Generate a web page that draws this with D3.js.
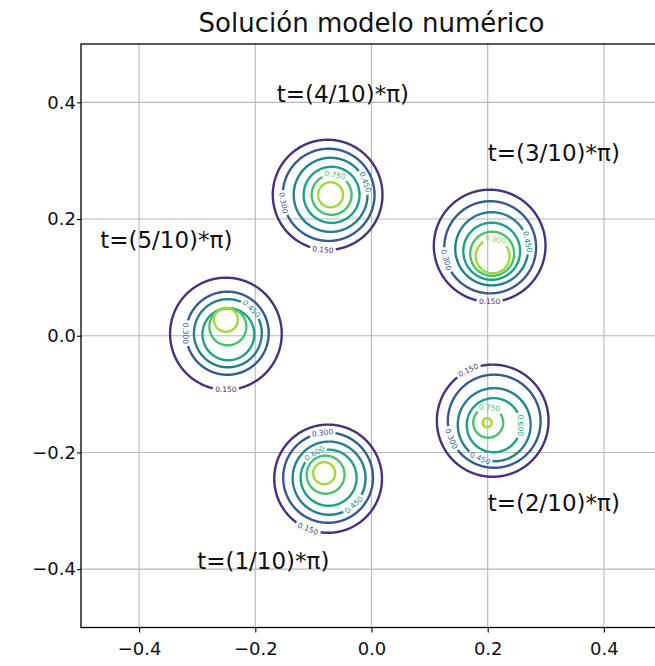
<!DOCTYPE html>
<html>
<head>
<meta charset="utf-8">
<script src="https://cdn.jsdelivr.net/npm/d3@7"></script>
<style>
  html, body { margin: 0; padding: 0; background: #ffffff; }
  svg { display: block; font-family: "DejaVu Sans", sans-serif; }
</style>
</head>
<body>
<div id="chart"></div>
<script>
// Contour levels of the numerical solution and their labels
const levels = [0.15, 0.30, 0.45, 0.60, 0.75, 0.90];
const levelText = ["0.150", "0.300", "0.450", "0.600", "0.750", "0.900"];
const colorTop = 1.05;

// Contour rings per time step: centre (x, y) and radius of each level
const t1CX = [-0.0747, -0.0747, -0.0730, -0.0738, -0.0790, -0.0815];
const t1CY = [-0.2450, -0.2433, -0.2441, -0.2433, -0.2381, -0.2355];
const t1R  = [0.0927, 0.0773, 0.0627, 0.0481, 0.0326, 0.0189];
const t1Lab = [[0, 112], [1, -97], [2, 47], [3, -120]];

const t2CX = [0.2086, 0.2112, 0.2112, 0.2103, 0.2009, 0.1991];
const t2CY = [-0.1456, -0.1465, -0.1525, -0.1533, -0.1490, -0.1490];
const t2R  = [0.0961, 0.0798, 0.0627, 0.0464, 0.0258, 0.0077];
const t2Lab = [[0, -116], [1, 158], [2, 113], [3, 0], [4, -85]];

const t3CX = [0.2034, 0.2043, 0.2069, 0.2069, 0.2077, 0.2086];
const t3CY = [0.1542, 0.1516, 0.1490, 0.1448, 0.1405, 0.1362];
const t3R  = [0.0961, 0.0790, 0.0627, 0.0489, 0.0378, 0.0292];
const t3Lab = [[0, 90], [1, 164], [2, -11], [5, -80]];

const t4CX = [-0.0755, -0.0738, -0.0704, -0.0687, -0.0687, -0.0704];
const t4CY = [0.2415, 0.2415, 0.2415, 0.2415, 0.2415, 0.2415];
const t4R  = [0.0944, 0.0790, 0.0635, 0.0481, 0.0343, 0.0215];
const t4Lab = [[0, 95], [1, 170], [2, -20], [4, -80]];

const t5CX = [-0.2506, -0.2481, -0.2472, -0.2464, -0.2472, -0.2506];
const t5CY = [0.0034, 0.0043, 0.0043, 0.0026, 0.0154, 0.0274];
const t5R  = [0.0961, 0.0712, 0.0584, 0.0446, 0.0318, 0.0206];
const t5Lab = [[0, 90], [1, 180], [2, -46]];

// Time annotations
const annotText = ["t=(1/10)*π)", "t=(2/10)*π)", "t=(3/10)*π)", "t=(4/10)*π)", "t=(5/10)*π)"];
const annotX = [-0.30, 0.20, 0.20, -0.163, -0.467];
const annotY = [-0.40, -0.30, 0.30, 0.40, 0.15];

// Axis ticks
const xTicks = [-0.4, -0.2, 0.0, 0.2, 0.4];
const yTicks = [-0.4, -0.2, 0.0, 0.2, 0.4];

const blobs = [
  { cx: t1CX, cy: t1CY, r: t1R, labels: t1Lab },
  { cx: t2CX, cy: t2CY, r: t2R, labels: t2Lab },
  { cx: t3CX, cy: t3CY, r: t3R, labels: t3Lab },
  { cx: t4CX, cy: t4CY, r: t4R, labels: t4Lab },
  { cx: t5CX, cy: t5CY, r: t5R, labels: t5Lab }
];

const W = 655, H = 666;
const margin = { left: 81, top: 44 };
const plotW = 581, plotH = 583.5;

const svg = d3.select("#chart").append("svg")
  .attr("width", W).attr("height", H);
svg.append("rect").attr("width", W).attr("height", H).attr("fill", "#ffffff");

const x = d3.scaleLinear().domain([-0.5, 0.5]).range([margin.left, margin.left + plotW]);
const y = d3.scaleLinear().domain([-0.5, 0.5]).range([margin.top + plotH, margin.top]);
const color = v => d3.interpolateViridis(v / colorTop);

// Grid
const grid = svg.append("g");
grid.selectAll("line.gx").data(xTicks).join("line")
  .attr("x1", d => x(d)).attr("x2", d => x(d))
  .attr("y1", y(-0.5)).attr("y2", y(0.5))
  .attr("stroke", "#b8b8b8").attr("stroke-width", 1.1);
grid.selectAll("line.gy").data(yTicks).join("line")
  .attr("y1", d => y(d)).attr("y2", d => y(d))
  .attr("x1", x(-0.5)).attr("x2", x(0.5))
  .attr("stroke", "#b8b8b8").attr("stroke-width", 1.1);

// Contours
const fontLabel = 7.5;
const plot = svg.append("g");
const measure = svg.append("text").attr("font-size", fontLabel).attr("visibility", "hidden");
function textWidth(s) { measure.text(s); return measure.node().getComputedTextLength(); }

blobs.forEach(b => {
  b.r.forEach((rv, i) => {
    const px = x(b.cx[i]), py = y(b.cy[i]);
    const rx = x(rv) - x(0), ry = y(0) - y(rv);
    const col = color(levels[i]);
    const labs = b.labels.filter(l => l[0] === i);
    // gaps where labels sit
    const gaps = labs.map(l => {
      const a = l[1] * Math.PI / 180;
      const half = Math.min((textWidth(levelText[i]) / 2 + 2) / ((rx + ry) / 2), Math.PI * 0.45);
      return [a - half, a + half];
    });
    const segs = [];
    let cur = [];
    for (let k = 0; k <= 720; k++) {
      const a = -Math.PI + k * Math.PI / 360;
      const inGap = gaps.some(g => {
        let d = a - (g[0] + g[1]) / 2;
        d = Math.atan2(Math.sin(d), Math.cos(d));
        return Math.abs(d) < (g[1] - g[0]) / 2;
      });
      if (inGap) { if (cur.length > 1) segs.push(cur); cur = []; }
      else cur.push([px + rx * Math.cos(a), py + ry * Math.sin(a)]);
    }
    if (cur.length > 1) segs.push(cur);
    // join the segment that wraps around the start angle
    if (gaps.length && segs.length > 1) {
      const first = segs[0], last = segs[segs.length - 1];
      if (Math.abs(first[0][0] - last[last.length - 1][0]) < 1 && Math.abs(first[0][1] - last[last.length - 1][1]) < 1) {
        segs[0] = last.concat(first); segs.pop();
      }
    }
    const line = d3.line();
    segs.forEach(s => {
      plot.append("path").attr("d", line(s)).attr("fill", "none")
        .attr("stroke", col).attr("stroke-width", 2.4).attr("stroke-linecap", "butt");
    });
    labs.forEach(l => {
      const a = l[1] * Math.PI / 180;
      const tx = px + rx * Math.cos(a), ty = py + ry * Math.sin(a);
      let rot = l[1] + 90;
      while (rot > 90) rot -= 180;
      while (rot < -90) rot += 180;
      plot.append("text").attr("x", tx).attr("y", ty)
        .attr("transform", `rotate(${rot},${tx},${ty})`)
        .attr("text-anchor", "middle").attr("dominant-baseline", "central")
        .attr("font-size", fontLabel).attr("fill", col)
        .text(levelText[i]);
    });
  });
});

// Annotations
svg.append("g").selectAll("text").data(annotText).join("text")
  .attr("x", (d, i) => x(annotX[i])).attr("y", (d, i) => y(annotY[i]))
  .attr("font-size", 23).attr("fill", "#111")
  .text(d => d);

// Axes frame
svg.append("rect").attr("x", x(-0.5)).attr("y", y(0.5))
  .attr("width", plotW).attr("height", plotH)
  .attr("fill", "none").attr("stroke", "#000").attr("stroke-width", 1.3);

// Axes
const fmt = d => d3.format(".1f")(d).replace("-", "\u2212");
const xAxis = d3.axisBottom(x).tickValues(xTicks).tickFormat(fmt).tickSize(5).tickPadding(10);
const yAxis = d3.axisLeft(y).tickValues(yTicks).tickFormat(fmt).tickSize(4).tickPadding(1);
const gx = svg.append("g").attr("transform", `translate(0,${y(-0.5)})`).call(xAxis);
const gy = svg.append("g").attr("transform", `translate(${x(-0.5)},0)`).call(yAxis);
[gx, gy].forEach(g => {
  g.select(".domain").remove();
  g.selectAll(".tick line").attr("stroke", "#000").attr("stroke-width", 1.1);
  g.selectAll(".tick text").attr("font-size", 18).attr("fill", "#111")
    .attr("font-family", "DejaVu Sans, sans-serif");
});

// Title
svg.append("text").attr("x", (x(-0.5) + x(0.5)) / 2).attr("y", 32)
  .attr("text-anchor", "middle").attr("font-size", 26).attr("fill", "#111")
  .text("Solución modelo numérico");
</script>
</body>
</html>
